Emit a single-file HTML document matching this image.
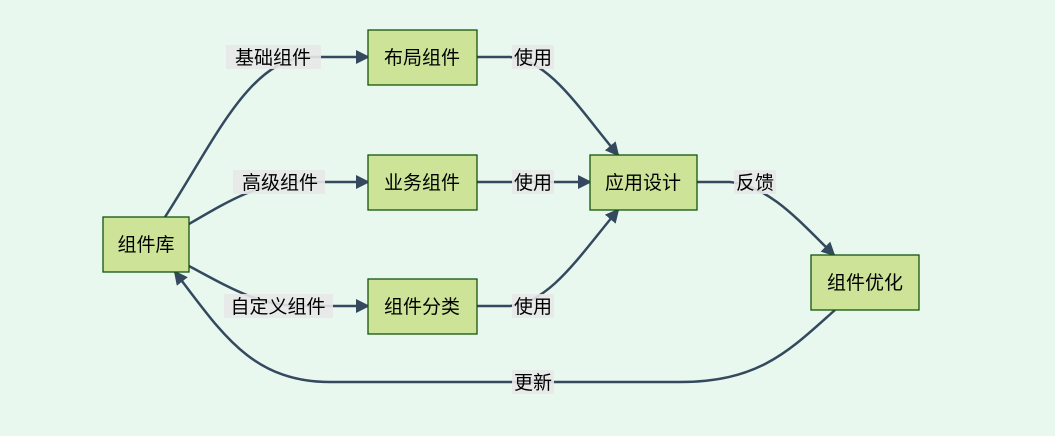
<!DOCTYPE html>
<html><head><meta charset="utf-8"><style>
html,body{margin:0;padding:0;background:#e9f8ef;}
svg{display:block;}
text{font-family:"Liberation Sans","Noto Sans CJK SC",sans-serif;font-size:19px;fill:#000;}
.n{fill:#cde498;stroke:#13540c;stroke-width:1.3;}
.e{fill:none;stroke:#34495e;stroke-width:2.5;}
.lb{fill:#e8e8e8;opacity:0.9;}
</style></head><body>
<svg width="1055" height="436" viewBox="0 0 1055 436">
<defs><marker id="a" markerWidth="10" markerHeight="10" refX="9" refY="5" orient="auto" markerUnits="userSpaceOnUse" viewBox="0 0 10 10"><path d="M0,0 L10,5 L0,10 z" fill="#34495e" transform="scale(1)"/></marker>
<marker id="b" markerWidth="14" markerHeight="14" refX="12" refY="7" orient="auto" markerUnits="userSpaceOnUse" viewBox="0 0 14 14"><path d="M0,0 L14,7 L0,14 z" fill="#34495e"/></marker></defs>
<path class="e" marker-end="url(#b)" d="M165,217 C215,140 250,57 310,57 L368,57"/>
<path class="e" marker-end="url(#b)" d="M189,224 C230,200 260,182 300,182 L368,182"/>
<path class="e" marker-end="url(#b)" d="M189,266 C230,288 260,306 300,306 L368,306"/>
<path class="e" marker-end="url(#b)" d="M477,57 L510,57 C550,60 580,110 618,155"/>
<path class="e" marker-end="url(#b)" d="M477,182 L590,182"/>
<path class="e" marker-end="url(#b)" d="M477,306 L510,306 C550,303 580,255 618,210"/>
<path class="e" marker-end="url(#b)" d="M697,182 L730,182 C770,186 800,222 834,255"/>
<path class="e" marker-end="url(#b)" d="M835,310 C790,350 760,382 680,382 L330,382 C250,382 220,330 175,272"/>
<rect class="lb" x="226" y="45" width="95" height="24"/><text x="273" y="64" text-anchor="middle">基础组件</text>
<rect class="lb" x="233" y="170" width="92" height="24"/><text x="280" y="189" text-anchor="middle">高级组件</text>
<rect class="lb" x="224" y="294" width="109" height="24"/><text x="278" y="313" text-anchor="middle">自定义组件</text>
<rect class="lb" x="512" y="45" width="42" height="24"/><text x="533" y="64" text-anchor="middle">使用</text>
<rect class="lb" x="512" y="170" width="42" height="24"/><text x="533" y="189" text-anchor="middle">使用</text>
<rect class="lb" x="512" y="294" width="42" height="24"/><text x="533" y="313" text-anchor="middle">使用</text>
<rect class="lb" x="734" y="170" width="42" height="24"/><text x="755" y="189" text-anchor="middle">反馈</text>
<rect class="lb" x="512" y="370" width="42" height="24"/><text x="533" y="389" text-anchor="middle">更新</text>
<rect class="n" x="103" y="217" width="86" height="55"/><text x="146" y="251" text-anchor="middle">组件库</text>
<rect class="n" x="368" y="30" width="109" height="55"/><text x="422" y="64" text-anchor="middle">布局组件</text>
<rect class="n" x="368" y="155" width="109" height="55"/><text x="422" y="189" text-anchor="middle">业务组件</text>
<rect class="n" x="368" y="279" width="109" height="55"/><text x="422" y="313" text-anchor="middle">组件分类</text>
<rect class="n" x="590" y="155" width="107" height="55"/><text x="643" y="189" text-anchor="middle">应用设计</text>
<rect class="n" x="811" y="255" width="108" height="55"/><text x="865" y="289" text-anchor="middle">组件优化</text>
</svg>
</body></html>
